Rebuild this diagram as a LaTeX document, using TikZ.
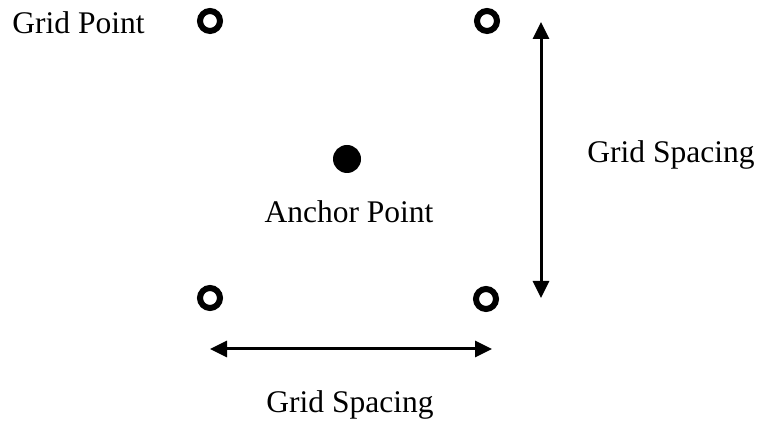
\documentclass[tikz,border=0pt]{standalone}
\usepackage{fontspec}
\setmainfont{Liberation Serif}
\usetikzlibrary{arrows.meta}
\begin{document}
\begin{tikzpicture}[x=1pt,y=1pt,
  gridpt/.style={circle,draw=black,line width=6pt,minimum size=20pt,inner sep=0pt},
  anchorpt/.style={circle,fill=black,minimum size=28pt,inner sep=0pt},
  lbl/.style={anchor=base,inner sep=0pt,font=\fontsize{31.5}{36}\selectfont},
  dimarrow/.style={line width=3pt,{Triangle[length=17pt,width=16pt]}-{Triangle[length=17pt,width=16pt]}}]
\useasboundingbox (0,0) rectangle (758,425);
% grid points (y = 425 - image y)
\node[gridpt] (g1) at (210,404) {};
\node[gridpt] (g2) at (487,404) {};
\node[gridpt] (g3) at (210,127) {};
\node[gridpt] (g4) at (486,126) {};
\node[anchorpt] (ap) at (347,266) {};
% labels
\node[lbl] (tgp) at (78.5,391) {Grid Point};
\node[lbl] (tap) at (349,202) {Anchor Point};
\node[lbl] (tgs1) at (671,262) {Grid Spacing};
\node[lbl] (tgs2) at (350,12) {Grid Spacing};
% dimension arrows
\coordinate (vtop) at (541,403);
\coordinate (vbot) at (541,127);
\coordinate (hl) at (210,76);
\coordinate (hr) at (492,76);
\draw[dimarrow] (vbot) -- (vtop);
\draw[dimarrow] (hl) -- (hr);
\end{tikzpicture}
\end{document}
